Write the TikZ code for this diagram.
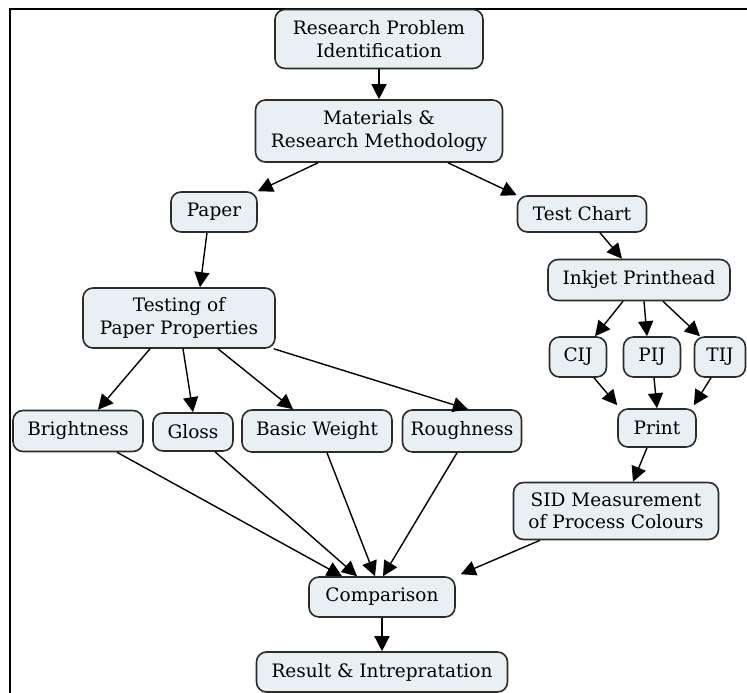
\documentclass[tikz,border=0pt]{standalone}
\usepackage{fontspec}
\setmainfont{DejaVu Serif}
\usetikzlibrary{arrows.meta}
\definecolor{boxfill}{HTML}{E8F0F3}
\definecolor{boxline}{HTML}{2B2B2B}

\begin{document}
\begin{tikzpicture}[x=1pt,y=-1pt,
    block/.style={draw=boxline,fill=boxfill,line width=1.6pt,rounded corners=10pt,
      align=center,inner sep=2pt,text=black,font=\fontsize{18.5}{22.5}\selectfont},
    flow/.style={line width=1.4pt,-{Triangle[length=15pt,width=15pt]}}]
      \useasboundingbox (0,0) rectangle (747,693);
      \draw[line width=1.5pt] (10,693) -- (10,9) -- (747,9);

      \node[block,minimum width=208pt,minimum height=59pt] (rpi) at (379,39) {Research Problem\\Identification};
      \node[block,minimum width=247pt,minimum height=62pt] (mat) at (379,131) {Materials \&\\Research Methodology};
      \node[block,minimum width=86pt,minimum height=40pt] (paper) at (214,212) {Paper};
      \node[block,minimum width=129pt,minimum height=36pt] (chart) at (582,214) {Test Chart};
      \node[block,minimum width=182pt,minimum height=41pt] (inkjet) at (639,280) {Inkjet Printhead};
      \node[block,minimum width=192pt,minimum height=60pt] (testing) at (179,318) {Testing of\\Paper Properties};
      \node[block,minimum width=130pt,minimum height=41pt] (bright) at (78,431) {Brightness};
      \node[block,minimum width=80pt,minimum height=38pt] (gloss) at (193,432) {Gloss};
      \node[block,minimum width=150pt,minimum height=42pt] (weight) at (317,431) {Basic Weight};
      \node[block,minimum width=119pt,minimum height=42pt] (rough) at (462,431) {Roughness};
      \node[block,minimum width=57pt,minimum height=40pt] (cij) at (578,357) {CIJ};
      \node[block,minimum width=57pt,minimum height=40pt] (pij) at (652,357) {PIJ};
      \node[block,minimum width=51pt,minimum height=40pt] (tij) at (720,357) {TIJ};
      \node[block,minimum width=78pt,minimum height=38pt] (print) at (657,428) {Print};
      \node[block,minimum width=205pt,minimum height=57pt] (sid) at (616,511) {SID Measurement\\of Process Colours};
      \node[block,minimum width=146pt,minimum height=40pt] (comp) at (382,597) {Comparison};
      \node[block,minimum width=251pt,minimum height=40pt] (result) at (382,672) {Result \& Intrepratation};

      \draw[flow] (rpi.south) -- (mat.north);
      \draw[flow] ([xshift=-61pt]mat.south) -- (paper.north east);
      \draw[flow] ([xshift=69pt]mat.south) -- (chart.north west);
      \draw[flow] ([xshift=-7pt]paper.south) -- ([xshift=21pt]testing.north);
      \draw[flow] ([xshift=18pt]chart.south) -- ([xshift=-17pt]inkjet.north);
      \draw[flow] ([xshift=-29pt]testing.south) -- ([xshift=20pt]bright.north);
      \draw[flow] ([xshift=4pt]testing.south) -- (gloss.north);
      \draw[flow] ([xshift=39pt]testing.south) -- ([xshift=-24pt]weight.north);
      \draw[flow] ([xshift=-2pt]testing.south east) -- ([xshift=6pt]rough.north);
      \draw[flow] ([xshift=-16pt]inkjet.south) -- ([xshift=17pt]cij.north);
      \draw[flow] ([xshift=5pt]inkjet.south) -- ([xshift=-5pt]pij.north);
      \draw[flow] ([xshift=24pt]inkjet.south) -- ([xshift=-20pt]tij.north);
      \draw[flow] ([xshift=16pt]cij.south) -- ([yshift=3pt]print.north west);
      \draw[flow] ([xshift=2pt]pij.south) -- (print.north);
      \draw[flow] ([xshift=-9pt]tij.south) -- ([shift={(-3pt,3pt)}]print.north east);
      \draw[flow] ([xshift=-10pt]print.south) -- ([xshift=17pt]sid.north);
      \draw[flow] ([xshift=39pt]bright.south) -- ([xshift=-40pt]comp.north);
      \draw[flow] ([xshift=22pt]gloss.south) -- ([xshift=-25pt]comp.north);
      \draw[flow] ([xshift=10pt]weight.south) -- ([xshift=-7pt]comp.north);
      \draw[flow] ([xshift=-5pt]rough.south) -- ([xshift=1pt]comp.north);
      \draw[flow] ([xshift=-76pt]sid.south) -- ([shift={(5pt,2pt)}]comp.north east);
      \draw[flow] (comp.south) -- (result.north);
\end{tikzpicture}
\end{document}
